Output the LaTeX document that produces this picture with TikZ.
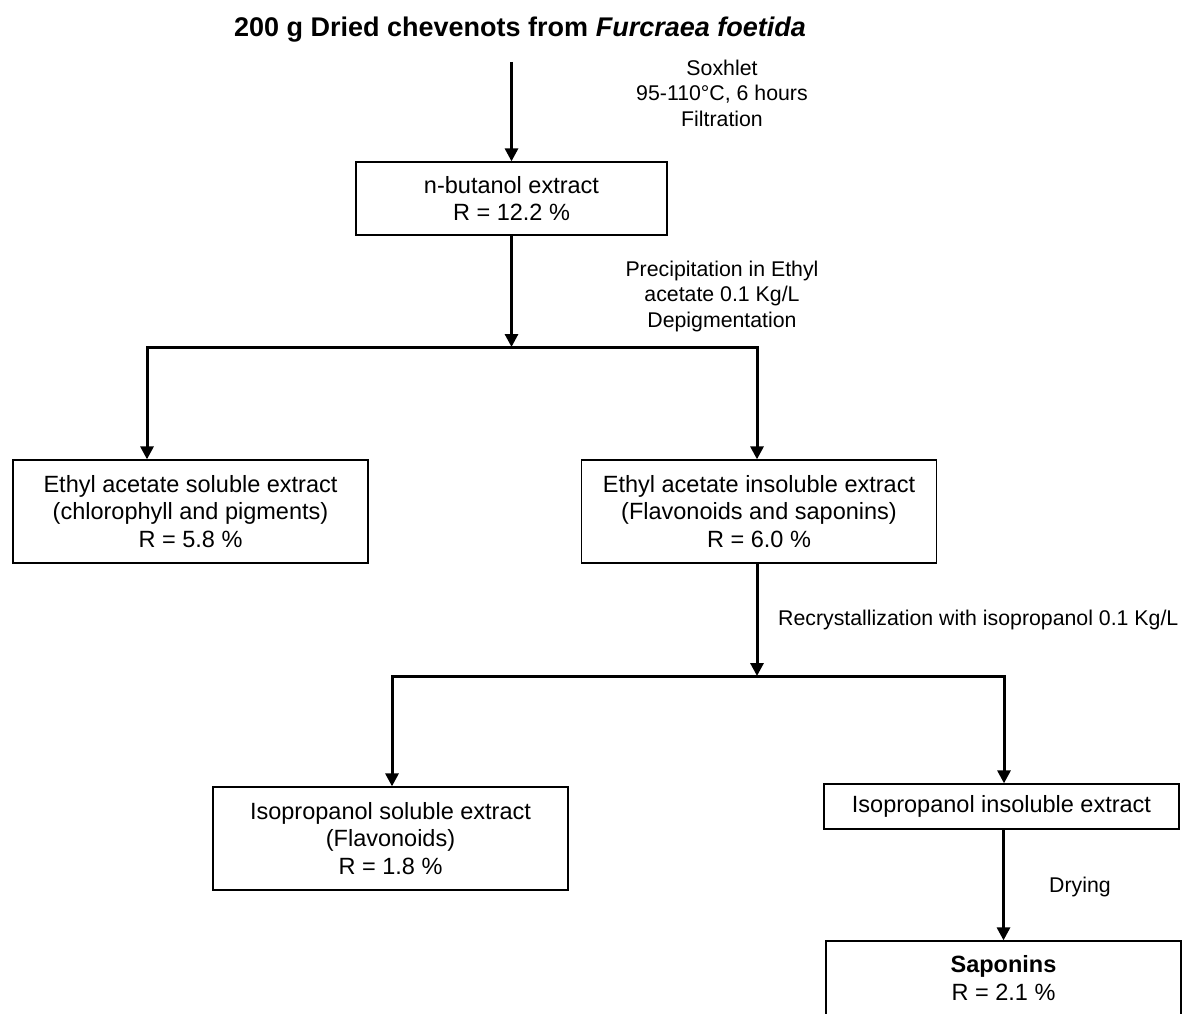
\documentclass[tikz,border=0pt]{standalone}
\usepackage{fontspec}
\setmainfont{Liberation Sans}
\usetikzlibrary{arrows.meta}

\begin{document}
\begin{tikzpicture}[x=1pt,y=-1pt,
        box/.style={draw,line width=1.3pt,align=center,inner sep=0pt,
                minimum width=\bw pt,font=\fontsize{23.5}{27.5}\selectfont},
        note/.style={align=center,inner sep=0pt,font=\fontsize{21.3}{25.5}\selectfont},
        arr/.style={line width=3pt,-{Triangle[width=13pt,length=13pt]}}]

	\def \bw {355}
	\def \ya {347}
	\def \yb {676}

        % page size
        \useasboundingbox (0,0) rectangle (1183,1013);

        % draw the title
        \node[inner sep=0pt,font=\fontsize{27}{31}\selectfont\bfseries] (title) at (520,30)
                {200 g Dried chevenots from \textit{Furcraea foetida}};

        % draw the boxes
        \node[box,minimum width=311pt,minimum height=73pt] (nbut) at (511.5,198.5)
                {n-butanol extract\\R = 12.2 \%};
        \node[box,minimum height=103pt] (eas) at (190.5,511.5)
                {Ethyl acetate soluble extract\\(chlorophyll and pigments)\\R = 5.8 \%};
        \node[box,minimum height=103pt] (eai) at (759,511.5)
                {Ethyl acetate insoluble extract\\(Flavonoids and saponins)\\R = 6.0 \%};
        \node[box,minimum height=103pt] (ips) at (390.5,838.5)
                {Isopropanol soluble extract\\(Flavonoids)\\R = 1.8 \%};
        \node[box,minimum height=45pt] (ipi) at (1001.5,806.5)
                {Isopropanol insoluble extract};
        \node[box,minimum height=74pt] (sap) at (1003.5,978)
                {\textbf{Saponins}\\R = 2.1 \%};

        % draw the step labels
        \node[note] (soxhlet) at (722,93) {Soxhlet\\95-110°C, 6 hours\\Filtration};
        \node[note] (precip) at (722,296) {Precipitation in Ethyl\\acetate 0.1 Kg/L\\Depigmentation};
        \node[note,anchor=west] (recryst) at (778,620) {Recrystallization with isopropanol 0.1 Kg/L};
        \node[note] (drying) at (1080,887) {Drying};

        % branch points
        \coordinate (j1) at (511.5,\ya);
        \coordinate (l1) at (147,\ya);
        \coordinate (r1) at (757,\ya);
        \coordinate (j2) at (757,\yb);
        \coordinate (l2) at (392,\yb);
        \coordinate (r2) at (1004,\yb);

        % draw the arrows
        \draw[arr,shorten <=19pt] (title.south -| nbut.north) -- (nbut.north);
        \draw[arr] (nbut) -- (j1);
        \draw[arr] (j1) -- (l1) -- (l1 |- eas.north);
        \draw[arr] (j1) -- (r1) -- (r1 |- eai.north);
        \draw[arr] (eai.south -| j2) -- (j2);
        \draw[arr] (j2) -- (l2) -- (l2 |- ips.north);
        \draw[arr] (j2) -- (r2) -- (r2 |- ipi.north);
        \draw[arr] (ipi.south -| sap.north) -- (sap.north);

\end{tikzpicture}
\end{document}
